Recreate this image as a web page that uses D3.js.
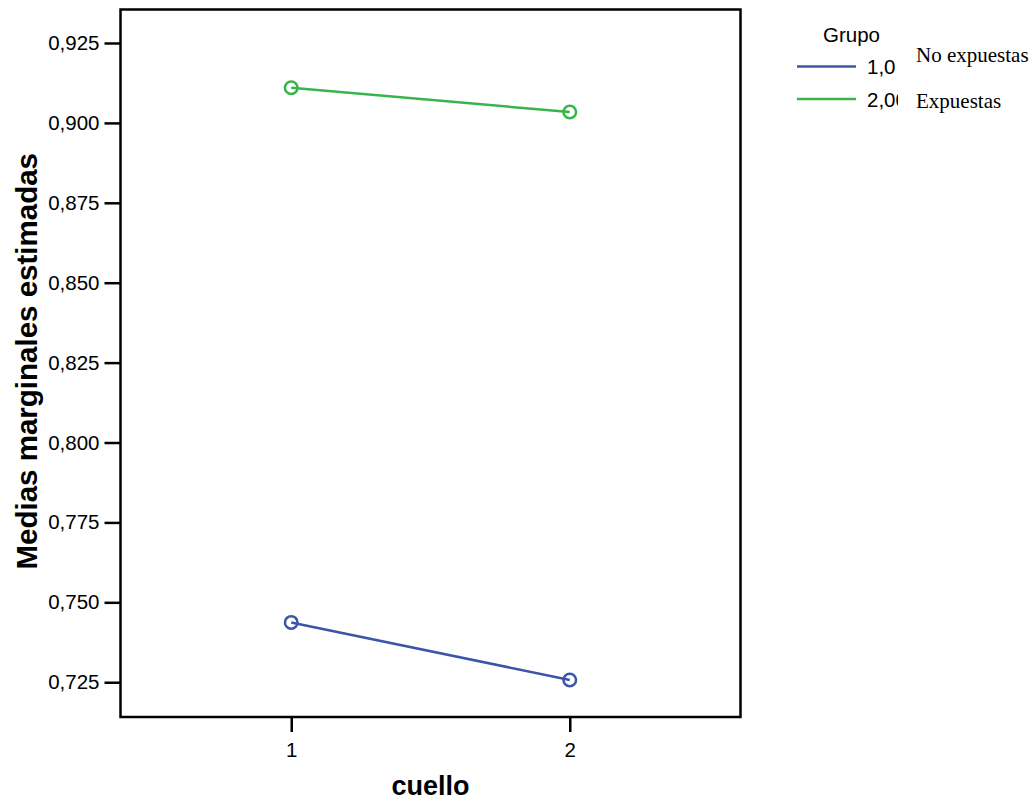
<!DOCTYPE html>
<html><head><meta charset="utf-8">
<script src="https://cdn.jsdelivr.net/npm/d3@7"></script>
<style>body{margin:0;background:#fff}svg{display:block}</style>
</head><body>
<svg id="chart" width="1034" height="801"></svg>
<script>
const categories = ["1", "2"];
const groups = ["1,00", "2,00"];
const groupLabels = ["No expuestas", "Expuestas"];
const seriesNoExpuestas = [0.7437, 0.7257];
const seriesExpuestas = [0.9110, 0.9034];
const yTicks = [0.725, 0.750, 0.775, 0.800, 0.825, 0.850, 0.875, 0.900, 0.925];
const colors = ["#3d55a7", "#38b54a"];

const series = [seriesNoExpuestas, seriesExpuestas];
const svg = d3.select("#chart");
const L = 120.5, R = 740.5, T = 9.5, B = 717;

const x = d3.scalePoint().domain(categories).range([L, R]).padding(0.613);
const y = d3.scaleLinear().domain([0.71412, 0.93548]).range([B, T]);

// frame
svg.append("rect").attr("x", L).attr("y", T).attr("width", R - L).attr("height", B - T)
  .attr("fill", "none").attr("stroke", "#000").attr("stroke-width", 2.5);

const fmt = d => d3.format(".3f")(d).replace(".", ",");
const yAxis = svg.append("g").attr("transform", `translate(${L},0)`)
  .call(d3.axisLeft(y).tickValues(yTicks).tickSize(16).tickPadding(5).tickFormat(fmt));
yAxis.select(".domain").remove();
yAxis.selectAll("line").attr("stroke", "#000").attr("stroke-width", 2.5);
yAxis.selectAll("text").attr("font-family", "Liberation Sans, Arial, sans-serif")
  .attr("font-size", 20.5).attr("fill", "#000");

const xAxis = svg.append("g").attr("transform", `translate(0,${B})`)
  .call(d3.axisBottom(x).tickSize(15).tickPadding(10));
xAxis.select(".domain").remove();
xAxis.selectAll("line").attr("stroke", "#000").attr("stroke-width", 2.5);
xAxis.selectAll("text").attr("font-family", "Liberation Sans, Arial, sans-serif")
  .attr("font-size", 20.5).attr("fill", "#000");

// axis titles
svg.append("text").attr("x", (L + R) / 2).attr("y", 795).attr("text-anchor", "middle")
  .attr("font-family", "Liberation Sans, Arial, sans-serif").attr("font-weight", "bold")
  .attr("font-size", 27).text("cuello");
svg.append("text").attr("transform", `translate(37,${(T + B) / 2 - 2}) rotate(-90)`)
  .attr("text-anchor", "middle")
  .attr("font-family", "Liberation Sans, Arial, sans-serif").attr("font-weight", "bold")
  .attr("font-size", 29.5).text("Medias marginales estimadas");

// lines + markers
const line = d3.line().x((d, i) => x(categories[i])).y(d => y(d));
series.forEach((s, k) => {
  svg.append("path").datum(s).attr("d", line).attr("fill", "none")
    .attr("stroke", colors[k]).attr("stroke-width", 2.5);
  svg.selectAll(null).data(s).enter().append("circle")
    .attr("cx", (d, i) => x(categories[i])).attr("cy", d => y(d)).attr("r", 6.3)
    .attr("fill", "none").attr("stroke", colors[k]).attr("stroke-width", 2.5);
});

// legend
svg.append("text").attr("x", 823).attr("y", 41.5)
  .attr("font-family", "Liberation Sans, Arial, sans-serif").attr("font-size", 20.5).text("Grupo");
const legY = [66.5, 99];
groups.forEach((g, k) => {
  svg.append("line").attr("x1", 797).attr("x2", 856).attr("y1", legY[k]).attr("y2", legY[k])
    .attr("stroke", colors[k]).attr("stroke-width", 2.5);
  svg.append("text").attr("x", 867).attr("y", legY[k] + 7.5)
    .attr("font-family", "Liberation Sans, Arial, sans-serif").attr("font-size", 20.5).text(g);
});
svg.append("rect").attr("x", 896).attr("y", 44).attr("width", 138).attr("height", 40).attr("fill", "#fff");
svg.append("rect").attr("x", 898).attr("y", 84).attr("width", 136).attr("height", 32).attr("fill", "#fff");
const lblY = [61.5, 108];
groupLabels.forEach((g, k) => {
  svg.append("text").attr("x", 916).attr("y", lblY[k])
    .attr("font-family", "Liberation Serif, Times New Roman, serif").attr("font-size", 21).text(g);
});
</script>
</body></html>
